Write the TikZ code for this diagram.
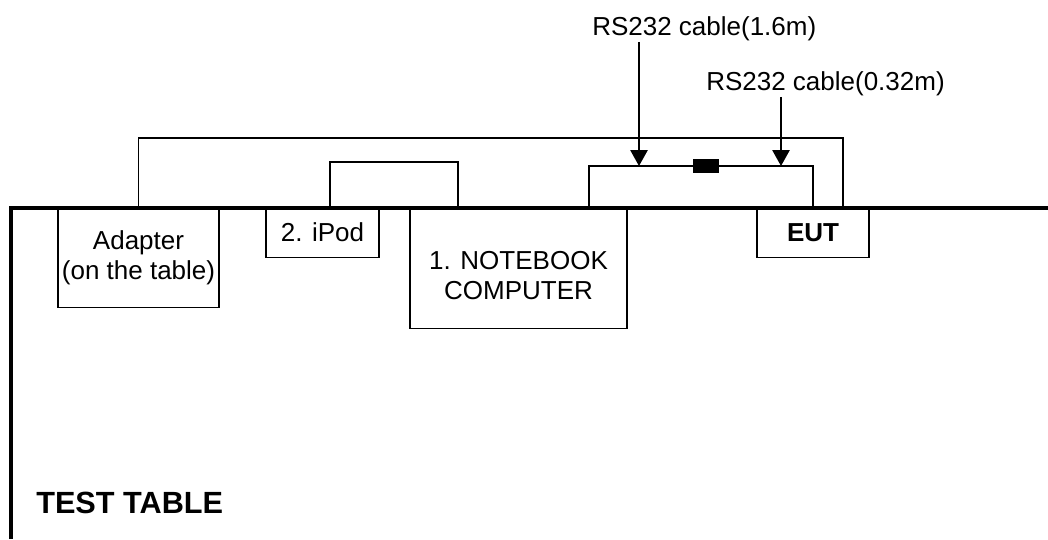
\documentclass[tikz,border=0pt]{standalone}
\usepackage{fontspec}
\setmainfont{Liberation Sans}
\usetikzlibrary{arrows.meta}
\tikzset{>={Triangle[width=13pt,length=12pt]}}
\tikzset{
	device/.style={draw,line width=1.3pt,fill=white,align=center,inner sep=0pt,font=\fontsize{19.5}{22.5}\selectfont},
	cable/.style={line width=1.3pt},
	callout/.style={font=\fontsize{19.5}{22.5}\selectfont,inner sep=0pt,anchor=base west}
}

\begin{document}
\begin{tikzpicture}[x=0.75pt,y=-0.75pt]
		\useasboundingbox (0,0) rectangle (1048,539);

		% devices on the table
		\node[device,minimum width=120.75pt,minimum height=75pt] (adapter) at (138.5,257.5) {Adapter\\(on the table)};
		\node[device,minimum width=84.75pt,minimum height=37.5pt] (ipod) at (322.5,232.5) {2. iPod};
		\node[device,minimum width=162.75pt,minimum height=90.75pt,
			label={[align=center,font=\fontsize{19.5}{22.5}\selectfont,yshift=-5.5pt]center:1. NOTEBOOK\\COMPUTER}] (nb) at (518.5,268) {};
		\node[device,minimum width=84pt,minimum height=37.5pt,font=\fontsize{19.5}{22.5}\selectfont\bfseries] (eut) at (813,232.5) {EUT};

		% connector block on the RS232 cable
		\node[fill=black,inner sep=0pt,minimum width=19.5pt,minimum height=10.5pt] (plug) at (706,166) {};

		% cables
		\draw[cable] (adapter.north) -- ++(0,-69) -| ([xshift=22.5pt]eut.north);
		\draw[cable] ([xshift=5.6pt]ipod.north) -- ++(0,-45) -| ([xshift=-45.4pt]nb.north);
		\draw[cable] ([xshift=52.9pt]nb.north) |- (plug.west);
		\draw[cable] (plug.east) -| (eut.north);

		% table edge
		\draw[line width=3pt] (11,539) -- (11,208) -- (1048,208);
		\node[font=\fontsize{23}{27}\selectfont\bfseries,anchor=base west,inner sep=0pt] (table) at (36,513) {TEST TABLE};

		% cable labels and arrows
		\node[callout] (lab1) at (592,35) {RS232 cable(1.6m)};
		\node[callout] (lab2) at (706,90) {RS232 cable(0.32m)};
		\coordinate (tip1) at (639,166);
		\coordinate (tip2) at (781,166);
		\draw[->,cable] ([yshift=-1pt]tip1 |- lab1.south) -- (tip1);
		\draw[->,cable] ([yshift=-1pt]tip2 |- lab2.south) -- (tip2);

	\end{tikzpicture}
\end{document}
